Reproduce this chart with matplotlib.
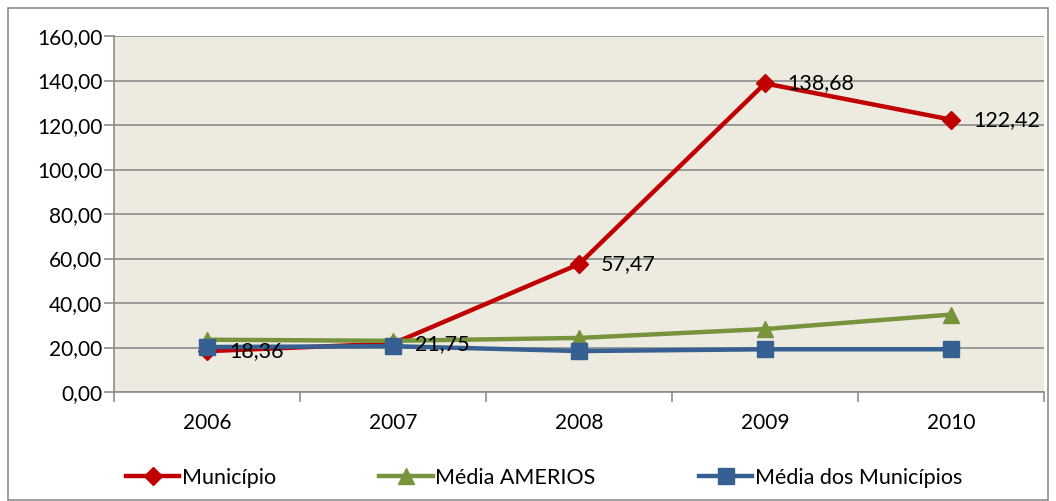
import matplotlib

matplotlib.use("Agg")
import matplotlib.pyplot as plt
from matplotlib.patches import Rectangle
from matplotlib.ticker import FuncFormatter, FixedLocator

plt.rcParams["font.family"] = ["Lato", "DejaVu Sans"]
plt.rcParams["font.size"] = 15

years = ["2006", "2007", "2008", "2009", "2010"]
municipio = [18.36, 21.75, 57.47, 138.68, 122.42]
media_amerios = [23.5, 23.0, 24.3, 28.3, 34.8]
media_municipios = [20.2, 20.6, 18.4, 19.2, 19.2]

RED = "#C00000"
GREEN = "#77933C"
BLUE = "#376092"
GRID = "#8C8C8C"

fig = plt.figure(figsize=(10.56, 5.01), dpi=100)
fig.patches.append(Rectangle((8 / 1056, 0.002), 1040 / 1056, 1 - 8 / 501 - 0.002,
                             transform=fig.transFigure, fill=False,
                             edgecolor="#8C8C8C", lw=1.2))
ax = fig.add_axes([114 / 1056, 109 / 501, 930 / 1056, 356 / 501])
ax.set_facecolor("#EDEAE0")

x = list(range(len(years)))
ax.plot(x, municipio, color=RED, lw=3.2, marker="D", ms=9, label="Município", zorder=3)
ax.plot(x, media_amerios, color=GREEN, lw=3.2, marker="^", ms=12, label="Média AMERIOS", zorder=4)
ax.plot(x, media_municipios, color=BLUE, lw=3.2, marker="s", ms=11, label="Média dos Municípios", zorder=5)

for xi, v in zip(x, municipio):
    ax.annotate(f"{v:.2f}".replace(".", ","), (xi, v), xytext=(22, 0),
                textcoords="offset pixels", va="center", ha="left",
                fontsize=15.5, zorder=6)

ax.set_xlim(-0.5, len(years) - 0.5)
ax.set_ylim(0, 160)
ax.set_yticks(range(0, 161, 20))
ax.yaxis.set_major_formatter(FuncFormatter(lambda v, p: f"{v:.2f}".replace(".", ",")))
ax.set_xticks(x)
ax.set_xticklabels(years)
ax.xaxis.set_minor_locator(FixedLocator([i - 0.5 for i in range(len(years) + 1)]))
ax.tick_params(axis="x", which="major", length=0, pad=15)
ax.tick_params(axis="x", which="minor", length=7, color=GRID, width=1.2)
ax.tick_params(axis="y", length=7, color=GRID, width=1.2, pad=1.5)
ax.grid(axis="y", color=GRID, lw=1.2)
ax.set_axisbelow(True)
for side in ["top", "right"]:
    ax.spines[side].set_visible(False)
for side in ["left", "bottom"]:
    ax.spines[side].set_color(GRID)
    ax.spines[side].set_linewidth(1.2)

fig.legend(loc="lower center", bbox_to_anchor=(0.515, -0.012), ncol=3, frameon=False,
           handlelength=2.5, handletextpad=0.1, columnspacing=4.8, fontsize=15.5)

fig.savefig("out.png", dpi=100)
